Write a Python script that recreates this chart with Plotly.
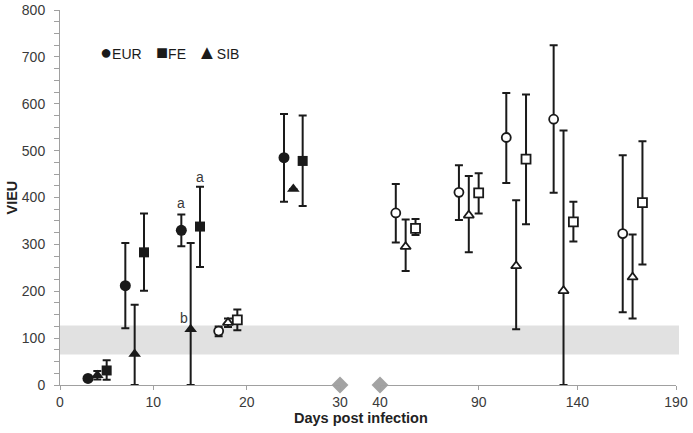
import plotly.graph_objects as go

# ---------------- data ----------------
strains = ["EUR", "FE", "SIB"]
symbols = {"EUR": "circle", "FE": "square", "SIB": "triangle-up"}
legend_glyphs = {"EUR": "\u25CF", "FE": "\u25A0", "SIB": "\u25B2"}

# filled markers (early phase)
eur_days = [3, 7, 13, 24]
eur_vals = [14, 212, 330, 485]
eur_hi = [14, 303, 364, 578]
eur_lo = [14, 121, 296, 391]

fe_days = [5, 9, 15, 26]
fe_vals = [31, 283, 338, 478]
fe_hi = [53, 366, 423, 575]
fe_lo = [11, 201, 252, 382]

sib_days = [4, 8, 14, 25]
sib_vals = [21, 66, 119, 418]
sib_hi = [30, 171, 303, 418]
sib_lo = [12, 0, 0, 418]

# open markers
eur_o_days = [17, 48, 80, 104, 128, 163]
eur_o_vals = [115, 367, 411, 528, 567, 323]
eur_o_hi = [125, 429, 469, 623, 725, 490]
eur_o_lo = [104, 304, 352, 431, 410, 155]

fe_o_days = [19, 58, 90, 114, 138, 173]
fe_o_vals = [139, 334, 410, 482, 348, 389]
fe_o_hi = [161, 354, 452, 620, 391, 520]
fe_o_lo = [117, 320, 366, 343, 306, 257]

sib_o_days = [18, 53, 85, 109, 133, 168]
sib_o_vals = [133, 295, 362, 254, 201, 230]
sib_o_hi = [142, 353, 446, 394, 543, 321]
sib_o_lo = [124, 243, 283, 119, 0, 142]

reference_band = [65, 127]
break_days = [30, 40]
x_ticks_left = [0, 10, 20, 30]
x_ticks_right = [40, 90, 140, 190]

# letter labels: (text, day, value)
letters = [("a", 13, 388), ("a", 15, 443), ("b", 13.3, 143)]

# ---------------- figure ----------------
W, H = 693, 433
ML, MR, MT, MB = 60, 17, 10, 48
PW = W - ML - MR
PH = H - MT - MB


def px2paper_x(px):
    return (px - ML) / PW


def px2paper_y(py):
    return (H - MB - py) / PH


FONT = "Liberation Sans, Arial, sans-serif"
INK = "#1a1a1a"

series = {
    "EUR": [(eur_days, eur_vals, eur_hi, eur_lo, True),
            (eur_o_days, eur_o_vals, eur_o_hi, eur_o_lo, False)],
    "FE": [(fe_days, fe_vals, fe_hi, fe_lo, True),
           (fe_o_days, fe_o_vals, fe_o_hi, fe_o_lo, False)],
    "SIB": [(sib_days, sib_vals, sib_hi, sib_lo, True),
            (sib_o_days, sib_o_vals, sib_o_hi, sib_o_lo, False)],
}

fig = go.Figure()

for name in strains:
    for days, vals, hi, lo, filled in series[name]:
        for axis, test in (("x", lambda d: d <= 30), ("x2", lambda d: d > 30)):
            idx = [i for i, d in enumerate(days) if test(d)]
            if not idx:
                continue
            xs = [days[i] for i in idx]
            ys = [vals[i] for i in idx]
            up = [hi[i] - vals[i] for i in idx]
            dn = [vals[i] - lo[i] for i in idx]
            if filled:
                size = {"circle": 11, "square": 10, "triangle-up": 11}[symbols[name]]
                marker = dict(symbol=symbols[name], size=size, color=INK,
                              line=dict(width=0))
            else:
                size = 9
                marker = dict(symbol=symbols[name], size=size, color="white",
                              line=dict(width=1.8, color=INK))
            fig.add_trace(go.Scatter(
                x=xs, y=ys, xaxis=axis, yaxis="y", mode="markers",
                marker=marker, name=name, showlegend=False, cliponaxis=False,
                error_y=dict(type="data", symmetric=False, array=up,
                             arrayminus=dn, color=INK, thickness=2, width=4),
            ))

# axis-break diamonds
fig.add_trace(go.Scatter(x=[break_days[0]], y=[0], xaxis="x", yaxis="y",
                         mode="markers", showlegend=False, cliponaxis=False,
                         marker=dict(symbol="diamond", size=13, color="#a3a3a3")))
fig.add_trace(go.Scatter(x=[break_days[1]], y=[0], xaxis="x2", yaxis="y",
                         mode="markers", showlegend=False, cliponaxis=False,
                         marker=dict(symbol="diamond", size=13, color="#a3a3a3")))

# reference band
fig.add_shape(type="rect", xref="paper", yref="y", x0=0, x1=px2paper_x(679),
              y0=reference_band[0], y1=reference_band[1],
              fillcolor="#e1e1e1", line=dict(width=0), layer="below")

axis_common = dict(showline=True, linecolor="#a0a0a0", linewidth=1,
                   ticks="outside", ticklen=4, tickcolor="#a0a0a0",
                   showgrid=False, zeroline=False, automargin=False,
                   tickfont=dict(family=FONT, size=14, color="#3a3a3a"))

fig.update_layout(
    width=W, height=H,
    margin=dict(l=ML, r=MR, t=MT, b=MB, autoexpand=False),
    paper_bgcolor="white", plot_bgcolor="white",
    showlegend=False,
    xaxis=dict(domain=[0, px2paper_x(340)], range=[0, 30],
               tickvals=x_ticks_left, anchor="y", **axis_common),
    xaxis2=dict(domain=[px2paper_x(380), 1], range=[40, 190],
                tickvals=x_ticks_right, anchor="y", **axis_common),
    yaxis=dict(range=[0, 800], dtick=100, tick0=0, anchor="x",
               showline=True, linecolor="#a0a0a0", linewidth=1,
               ticks="outside", ticklen=5, tickcolor="#a0a0a0",
               showgrid=False, zeroline=False, ticklabelstandoff=6,
               automargin=False,
               minor=dict(dtick=25, ticks="outside", ticklen=5,
                          tickcolor="#a0a0a0", showgrid=False),
               tickfont=dict(family=FONT, size=14, color="#3a3a3a")),
)

# axis titles
fig.add_annotation(text="<b>Days post infection</b>", xref="paper", yref="paper",
                   x=px2paper_x(361), y=px2paper_y(418), showarrow=False,
                   xanchor="center", yanchor="middle",
                   font=dict(family=FONT, size=14.5, color="#222"))
fig.add_annotation(text="<b>VIEU</b>", xref="paper", yref="paper",
                   x=px2paper_x(11), y=0.5, textangle=-90, showarrow=False,
                   xanchor="center", yanchor="middle",
                   font=dict(family=FONT, size=14.5, color="#222"))

# letter labels
for txt, d, v in letters:
    fig.add_annotation(text=txt, x=d, y=v, xref="x", yref="y", showarrow=False,
                       xanchor="center", yanchor="middle",
                       font=dict(family=FONT, size=14, color="#3a3a3a"))

# legend (inline glyph + name)
legend_x = [98, 154, 195]
for name, lx in zip(strains, legend_x):
    fig.add_annotation(text="<span style='font-size:20px'>" + legend_glyphs[name]
                       + "</span>" + name, xref="paper", yref="paper",
                       x=px2paper_x(lx), y=px2paper_y(52), showarrow=False,
                       xanchor="left", yanchor="middle",
                       font=dict(family=FONT, size=14, color=INK))

# remove the default 8px body margin so the figure fills the window exactly
fig.write_html("out.html", config={"displayModeBar": False},
               post_script="document.body.style.margin='0';")
